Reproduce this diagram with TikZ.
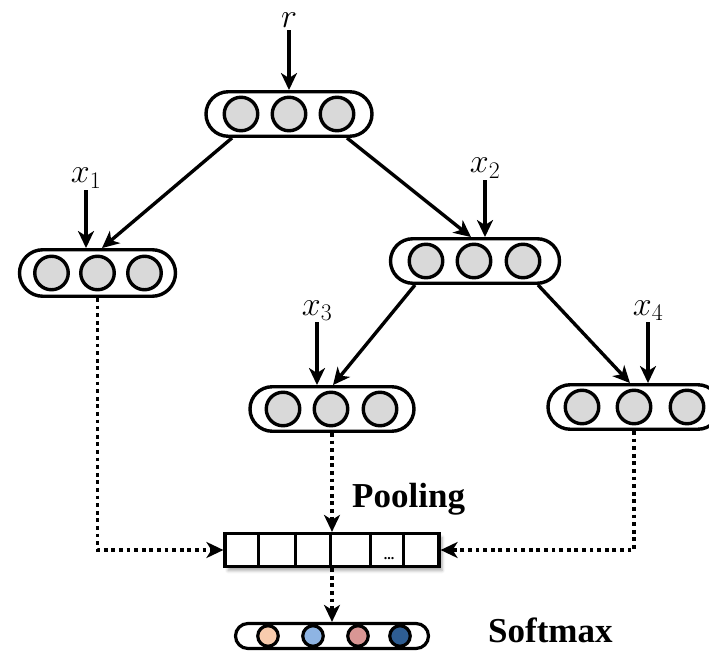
\RequirePackage{fix-cm}
\documentclass[tikz,border=0pt]{standalone}
\usepackage{fontspec}
\newfontfamily\titlefont{Liberation Serif}
\usetikzlibrary{arrows.meta,shadows.blur,backgrounds,calc}
\definecolor{cellgray}{HTML}{D9D9D9}
\definecolor{peach}{HTML}{F8CBAD}
\definecolor{skyblue}{HTML}{8EB4E3}
\definecolor{rosepink}{HTML}{D99694}
\definecolor{deepblue}{HTML}{2E5D93}
\tikzset{
  capsule/.style={draw, fill=white, line width=3.4pt, inner sep=0pt,
    minimum width=#1, minimum height=44.5pt, rounded corners=22.25pt},
  unit/.style={circle, draw, fill=cellgray, line width=3.4pt, inner sep=0pt,
    minimum size=33.5pt},
  outcapsule/.style={draw, fill=white, line width=3.2pt, inner sep=0pt,
    minimum width=193pt, minimum height=25pt, rounded corners=12.5pt},
  outunit/.style={circle, draw, fill=#1, line width=3.2pt, inner sep=0pt,
    minimum size=20.5pt},
  poolbar/.style={draw, fill=white, line width=3.2pt, inner sep=0pt,
    minimum width=214pt, minimum height=33pt,
    blur shadow={shadow xshift=3pt, shadow yshift=-4pt,
      shadow blur radius=3pt, shadow opacity=35}},
  lbl/.style={font=\fontsize{34}{36}\selectfont, inner sep=2pt},
  heading/.style={font=\titlefont\bfseries\fontsize{35}{40}\selectfont,
    inner sep=0pt},
  tip/.style={-{Stealth[length=17pt,width=16pt,inset=5pt]}},
  solidarrow/.style={tip, line width=3.4pt},
  dotarrow/.style={tip, line width=3.8pt, dash pattern=on 3.8pt off 3.8pt},
}
\begin{document}
\begin{tikzpicture}[x=1pt, y=-1pt]
\useasboundingbox (0,0) rectangle (709,652);

% tree units: capsule with three cells each
\node[capsule=166pt] (top) at (289,114) {};
\foreach \i/\dx in {1/-48,2/0,3/48}
  \node[unit] (t\i) at ($(top.center)+(\dx,0)$) {};

\node[capsule=156pt, minimum height=46.5pt, rounded corners=23.25pt] (left) at (97.5,273) {};
\foreach \i/\dx in {1/-46,2/0,3/47}
  \node[unit] (l\i) at ($(left.center)+(\dx,0)$) {};

\node[capsule=169pt] (mid) at (475,261) {};
\foreach \i/\dx in {1/-49,2/-1,3/48}
  \node[unit] (m\i) at ($(mid.center)+(\dx,0)$) {};

\node[capsule=164pt] (n3) at (332,409) {};
\foreach \i/\dx in {1/-49,2/-1,3/48}
  \node[unit] (a\i) at ($(n3.center)+(\dx,0)$) {};

\node[capsule=172pt] (n4) at (634,407) {};
\foreach \i/\dx in {1/-52,2/0,3/53}
  \node[unit] (b\i) at ($(n4.center)+(\dx,0)$) {};

% inputs
\node[lbl, anchor=base] (lr) at (289,28) {$r$};
\node[lbl, anchor=base] (lx1) at (86,183) {$x_1$};
\node[lbl, anchor=base] (lx2) at (485,173) {$x_2$};
\node[lbl, anchor=base] (lx3) at (317,315) {$x_3$};
\node[lbl, anchor=base] (lx4) at (648,315) {$x_4$};

% pooling vector
\node[poolbar] (pool) at (332,550) {};
\foreach \d in {35,72,107,147,180}
  \draw[line width=3.2pt] ($(pool.north west)+(\d,0)$) -- ($(pool.south west)+(\d,0)$);
\node[font=\titlefont\bfseries\fontsize{14}{14}\selectfont, anchor=base, inner sep=0pt] (dots) at (389,559) {...};
\node[heading, anchor=base west] (pooltxt) at (352,507) {Pooling};

% softmax output
\node[outcapsule] (soft) at (332,636) {};
\node[outunit=peach] (s1) at ($(soft.center)+(-64,0)$) {};
\node[outunit=skyblue] (s2) at ($(soft.center)+(-19,0)$) {};
\node[outunit=rosepink] (s3) at ($(soft.center)+(26,0)$) {};
\node[outunit=deepblue] (s4) at ($(soft.center)+(68,0)$) {};
\node[heading, anchor=base west] (softtxt) at (488,642) {Softmax};

% connectors
\begin{scope}[on background layer]
  \draw[solidarrow] (lr.south) -- (lr.south |- top.north);
  \draw[solidarrow] (lx1.south) -- (lx1.south |- left.north);
  \draw[solidarrow] (lx2.south) -- (lx2.south |- mid.north);
  \draw[solidarrow] (lx3.south) -- (lx3.south |- n3.north);
  \draw[solidarrow] (lx4.south) -- (lx4.south |- n4.north);

  \draw[solidarrow] ($(top.south)+(-57,0)$) -- ($(left.north)+(4.5,0)$);
  \draw[solidarrow] ($(top.south)+(58,0)$) -- ($(mid.north)+(-4,0)$);
  \draw[solidarrow] ($(mid.south)+(-60,0)$) -- ($(n3.north)+(1,0)$);
  \draw[solidarrow] ($(mid.south)+(63,0)$) -- ($(n4.north)+(-4,0)$);

  \draw[dotarrow] (left.south) |- (pool.west);
  \draw[dotarrow] (n4.south) |- (pool.east);
  \draw[dotarrow] (n3.south) -- (pool.north);
  \draw[dotarrow] (pool.south) -- (soft.north);
\end{scope}
\end{tikzpicture}
\end{document}
